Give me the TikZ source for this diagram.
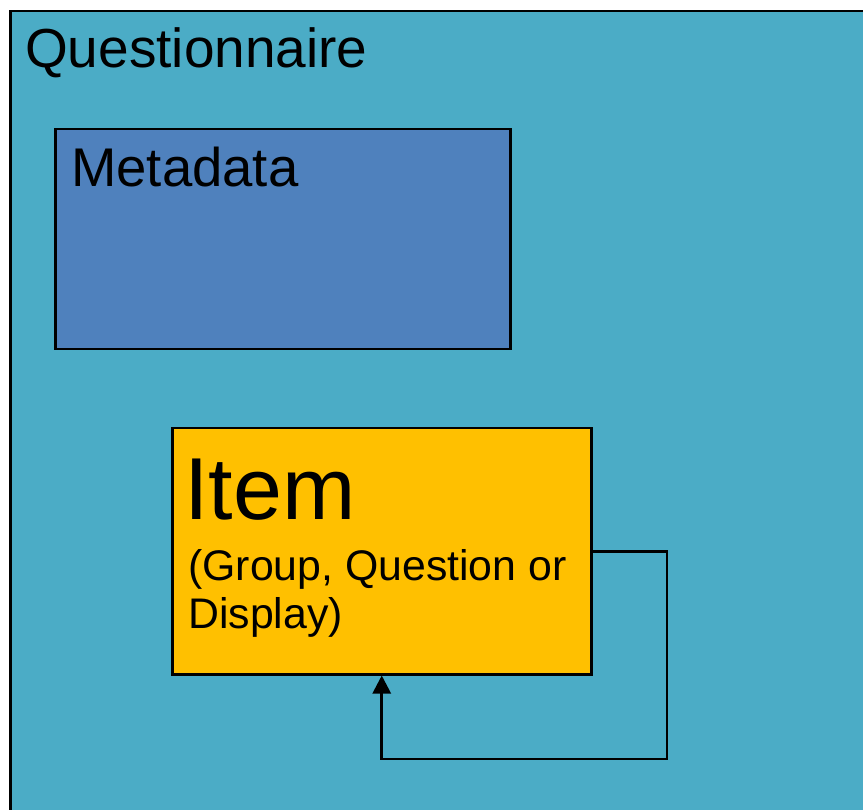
\documentclass[tikz,border=0pt]{standalone}
\usepackage{fontspec}
\setmainfont{Liberation Sans}
\usetikzlibrary{arrows.meta}
\definecolor{outerc}{HTML}{4BACC6}
\definecolor{metac}{HTML}{4F81BD}
\definecolor{itemc}{HTML}{FFC000}
\tikzset{
  box/.style={draw=black, line width=2.5pt, rectangle, inner sep=0pt, anchor=north west},
  lbl/.style={anchor=base west, inner sep=0pt, text=black},
  conn/.style={draw=black, line width=2.8pt, -{Triangle[length=18pt,width=18pt]}}
}
\begin{document}
\begin{tikzpicture}[x=1pt,y=-1pt]
\useasboundingbox (0,0) rectangle (863,810);
\node[box, fill=outerc, minimum width=880pt, minimum height=830pt] (outer) at (9,10) {};
\node[box, fill=metac, minimum width=455pt, minimum height=220pt] (meta) at (54,128) {};
\node[box, fill=itemc, minimum width=419pt, minimum height=246pt] (item) at (171,427) {};
\node[lbl] (tq) at (25,68) {\fontsize{55}{60}\selectfont Questionnaire};
\node[lbl] (tm) at (71,187) {\fontsize{54.5}{60}\selectfont Metadata};
\node[lbl] (ti) at (184,519) {\fontsize{88}{95}\selectfont Item};
\node[lbl] (ts1) at (188,580) {\fontsize{42.8}{48}\selectfont (Group, Question or};
\node[lbl] (ts2) at (188,628) {\fontsize{42.8}{48}\selectfont Display)};
\coordinate (c1) at (667,759);
\draw[conn] (item.east) -| (c1) -| (item.south);
\end{tikzpicture}
\end{document}
